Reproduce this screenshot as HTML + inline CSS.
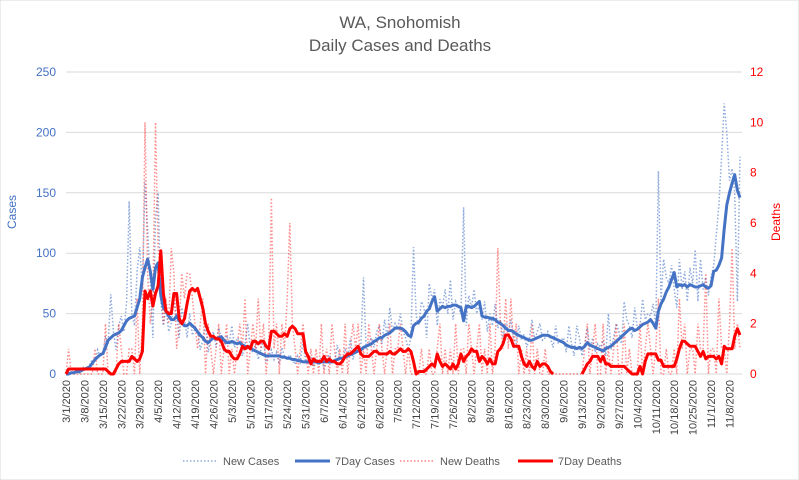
<!DOCTYPE html>
<html><head><meta charset="utf-8"><style>
html,body{margin:0;padding:0;background:#fff;}
svg{display:block;font-family:"Liberation Sans",Arial,sans-serif;}
</style></head><body>
<svg id="chart" width="799" height="480" viewBox="0 0 799 480">
<rect width="799" height="480" fill="#fff" stroke="#d9d9d9"/>
<text x="400" y="28" text-anchor="middle" font-size="17" fill="#595959">WA, Snohomish</text>
<text x="400" y="51" text-anchor="middle" font-size="17" fill="#595959">Daily Cases and Deaths</text>
<text transform="translate(16,212) rotate(-90)" text-anchor="middle" font-size="12" fill="#4472C4">Cases</text>
<text transform="translate(780,222) rotate(-90)" text-anchor="middle" font-size="12" fill="#FF0000">Deaths</text>
<g id="grid"></g><g id="marks"></g><g id="axes"></g>
<g>
<line x1="183" y1="461" x2="218" y2="461" stroke="#4472C4" stroke-opacity="0.6" stroke-width="1.5" stroke-dasharray="1.5,2"/>
<text x="223" y="465" font-size="11" fill="#595959">New Cases</text>
<line x1="295" y1="461" x2="330" y2="461" stroke="#4472C4" stroke-width="3"/>
<text x="335" y="465" font-size="11" fill="#595959">7Day Cases</text>
<line x1="400" y1="461" x2="435" y2="461" stroke="#FF0000" stroke-opacity="0.5" stroke-width="1.5" stroke-dasharray="1.5,2"/>
<text x="440" y="465" font-size="11" fill="#595959">New Deaths</text>
<line x1="518" y1="461" x2="553" y2="461" stroke="#FF0000" stroke-width="3"/>
<text x="558" y="465" font-size="11" fill="#595959">7Day Deaths</text>
</g>
</svg>
<script>
const caseTicks=[0,50,100,150,200,250];
const deathTicks=[0,2,4,6,8,10,12];
const newCases=[0,0,2,1,3,0,5,6,4,8,12,10,20,14,18,30,25,66,35,20,40,48,35,60,143,50,40,85,105,70,160,120,75,30,130,150,60,40,55,35,42,60,48,30,55,45,30,50,32,38,35,20,28,42,18,30,35,22,38,30,18,32,26,40,22,30,28,15,24,42,20,18,25,12,20,28,10,15,20,12,18,8,22,14,13,16,12,8,15,10,28,10,8,14,6,12,10,14,4,12,16,10,8,24,14,10,20,15,30,12,22,18,24,80,20,26,30,22,35,40,25,45,30,55,35,42,38,50,35,30,20,30,105,48,40,60,55,30,75,62,70,40,62,55,70,50,78,45,60,55,50,138,40,65,55,70,50,58,45,60,35,50,40,58,38,45,30,42,35,45,30,25,40,28,33,22,30,45,28,35,42,28,30,35,30,22,40,25,28,30,18,40,25,15,40,30,15,25,38,20,30,18,25,22,28,15,50,20,30,42,35,25,60,45,40,30,55,38,40,62,45,50,48,58,40,168,60,95,80,75,90,70,55,95,70,85,60,88,75,103,60,95,70,80,65,80,90,115,140,180,224,200,160,170,150,60,180];
const cases7=[0,0,1,1,2,2,3,4,5,6,9,12,14,16,17,22,28,30,32,33,34,36,40,44,46,47,48,55,62,80,88,95,85,70,88,92,65,55,52,48,45,45,48,44,42,40,40,42,40,38,35,32,30,27,26,28,30,29,30,31,28,26,26,27,26,25,26,24,23,22,22,20,19,18,17,16,15,15,15,15,15,15,14,14,13,13,12,12,11,11,10,10,10,10,10,10,9,10,10,10,10,10,11,12,13,13,14,15,16,17,18,19,20,22,23,24,25,27,28,30,30,32,33,34,36,38,38,38,37,35,32,31,40,42,43,46,48,52,54,60,64,52,54,56,55,56,56,57,57,56,55,44,56,56,55,56,58,60,48,47,47,46,46,45,43,42,40,38,36,36,35,33,32,31,30,29,28,28,29,30,31,32,32,32,31,30,29,28,27,26,24,23,22,22,21,22,21,23,26,24,23,22,21,20,19,21,22,23,25,27,29,31,33,35,37,38,36,37,39,41,42,43,45,42,38,52,58,62,68,72,78,84,72,74,73,74,72,74,73,72,72,73,74,72,71,73,85,86,90,96,120,140,150,158,165,152,146];
const newDeaths=[0,1,0,0,0,0,0,0,0,0,0,1,0,0,0,2,0,0,0,0,2,1,0,0,1,1,0,3,0,2,10,4,2,3,10,5,4,2,3,2,5,4,1,2,4,3,4,4,3,2,1,2,3,0,2,1,0,1,2,0,1,2,0,1,0,1,2,1,3,0,1,2,1,3,1,2,0,1,7,1,2,0,2,1,3,6,2,1,0,1,2,1,0,1,0,1,0,2,0,1,0,2,1,0,1,0,2,0,1,2,1,2,0,1,0,2,1,0,1,2,1,0,1,2,0,1,1,2,1,0,1,0,0,0,0,1,0,0,1,0,0,1,2,0,1,0,1,0,2,0,1,1,0,2,1,0,1,2,0,1,0,2,0,1,5,2,1,3,1,3,1,2,0,1,0,1,0,2,0,1,0,0,1,0,0,0,0,0,0,0,0,0,0,0,0,0,0,1,2,0,1,2,0,0,2,0,1,0,1,2,0,0,2,0,1,0,0,0,2,0,1,2,1,0,1,3,0,0,1,0,0,1,0,3,1,2,0,1,1,0,2,1,1,4,0,1,1,0,3,1,1,0,2,5,1,2,1];
const deaths7=[0,0.2,0.2,0.2,0.2,0.2,0.2,0.2,0.2,0.2,0.2,0.2,0.2,0.2,0.2,0.2,0.1,0,0,0.2,0.4,0.5,0.5,0.5,0.5,0.7,0.6,0.5,0.6,0.9,3.3,3.0,3.3,2.7,3.2,3.5,4.9,3.2,2.5,2.4,2.4,3.2,3.2,2.2,2.0,2.2,2.8,3.3,3.4,3.3,3.4,3.0,2.6,2.0,1.7,1.5,1.5,1.4,1.4,1.3,1.0,0.9,0.9,0.7,0.6,0.6,0.8,1.1,1.0,1.1,1.0,1.3,1.3,1.2,1.3,1.3,1.1,1.0,1.7,1.7,1.6,1.5,1.5,1.6,1.5,1.8,1.9,1.8,1.6,1.6,1.6,0.9,0.7,0.4,0.6,0.5,0.5,0.5,0.7,0.5,0.6,0.5,0.5,0.4,0.4,0.5,0.7,0.8,0.8,0.9,1.0,1.1,0.8,0.7,0.7,0.7,0.8,0.9,0.9,0.8,0.8,0.8,0.8,0.9,0.8,0.8,0.9,1.0,0.9,0.9,1.0,0.9,0.5,0,0.1,0.1,0.1,0.2,0.3,0.4,0.3,0.8,0.5,0.3,0.4,0.3,0.2,0.4,0.2,0.4,0.8,0.5,0.7,0.8,1.0,0.9,0.9,0.5,0.7,0.6,0.4,0.6,0.4,0.4,0.9,1.0,1.2,1.55,1.55,1.4,1.1,1.1,1.1,0.7,0.4,0.3,0.5,0.3,0.2,0.5,0.3,0.4,0.4,0.3,0.1,0,null,null,null,null,null,null,null,null,null,null,0,0.2,0.4,0.5,0.7,0.7,0.7,0.5,0.7,0.4,0.4,0.3,0.3,0.3,0.3,0.3,0.3,0.2,0.1,0,0,0,0.3,0,0.5,0.8,0.8,0.8,0.8,0.55,0.55,0.3,0.3,0.3,0.3,0.3,0.6,1.0,1.3,1.3,1.2,1.1,1.1,1.1,0.9,0.7,0.9,0.6,0.7,0.7,0.7,0.6,0.7,0.4,1.1,1.0,1.0,1.0,1.5,1.8,1.55];
const dateLabels=["3/1/2020","3/8/2020","3/15/2020","3/22/2020","3/29/2020","4/5/2020","4/12/2020","4/19/2020","4/26/2020","5/3/2020","5/10/2020","5/17/2020","5/24/2020","5/31/2020","6/7/2020","6/14/2020","6/21/2020","6/28/2020","7/5/2020","7/12/2020","7/19/2020","7/26/2020","8/2/2020","8/9/2020","8/16/2020","8/23/2020","8/30/2020","9/6/2020","9/13/2020","9/20/2020","9/27/2020","10/4/2020","10/11/2020","10/18/2020","10/25/2020","11/1/2020","11/8/2020"];

const NS="http://www.w3.org/2000/svg";
const X0=66,X1=740,Y0=374,Y1=72;
const nDays=newCases.length;
function x(d){return X0+d*(X1-X0)/(nDays-1);}
function yc(v){return Y0-(v/250)*(Y0-Y1);}
function yd(v){return Y0-(v/12)*(Y0-Y1);}
function mk(tag,attrs,parent){const e=document.createElementNS(NS,tag);for(const k in attrs)e.setAttribute(k,attrs[k]);parent.appendChild(e);return e;}
const grid=document.getElementById('grid'),marks=document.getElementById('marks'),axes=document.getElementById('axes');
caseTicks.forEach(t=>{
  const l=mk('line',{x1:X0,x2:X1+2,y1:yc(t),y2:yc(t),stroke:'#d9d9d9','stroke-width':1},grid);
  
  
  const tx=mk('text',{x:56,y:yc(t)+4,'text-anchor':'end','font-size':12,fill:'#4472C4'},axes);
  tx.textContent=t;
  
  
});
deathTicks.forEach(t=>{
  const tx=mk('text',{x:750,y:yd(t)+4,'text-anchor':'start','font-size':12,fill:'#FF0000'},axes);
  tx.textContent=t;
  
  
});
dateLabels.forEach((s,i)=>{
  const px=x(i*7);
  const tx=mk('text',{transform:`translate(${px+4},380) rotate(-90)`,'text-anchor':'end','font-size':11,fill:'#404040'},axes);
  tx.textContent=s;
  
  
});
function path(arr,yf){
  let d='',pen=false;
  arr.forEach((v,i)=>{
    if(v===null){pen=false;return;}
    d+=(pen?'L':'M')+x(i).toFixed(1)+','+yf(Math.max(0,v)).toFixed(1);pen=true;
  });
  return d;
}
const p1=mk('path',{d:path(newCases,yc),fill:'none',stroke:'#4472C4','stroke-opacity':0.6,'stroke-width':1.5,'stroke-dasharray':'1.5,2'},marks);


const p2=mk('path',{d:path(newDeaths,yd),fill:'none',stroke:'#FF0000','stroke-opacity':0.45,'stroke-width':1.5,'stroke-dasharray':'1.5,2'},marks);


const p3=mk('path',{d:path(cases7,yc),fill:'none',stroke:'#4472C4','stroke-width':3,'stroke-linejoin':'round'},marks);


const p4=mk('path',{d:path(deaths7,yd),fill:'none',stroke:'#FF0000','stroke-width':3,'stroke-linejoin':'round'},marks);


</script>
</body></html>
